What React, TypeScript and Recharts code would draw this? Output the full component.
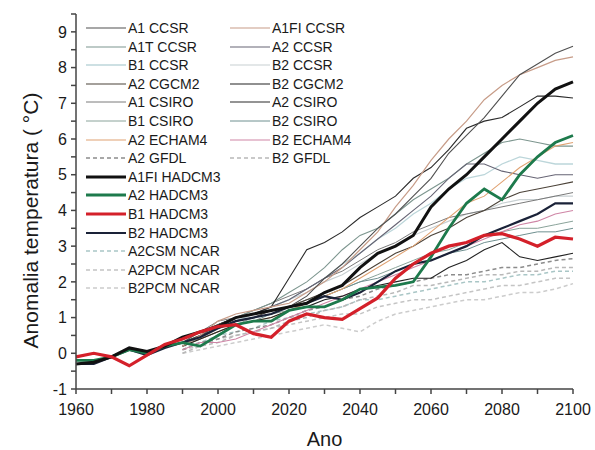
import React from 'react';
import { LineChart, Line, XAxis, YAxis, Legend } from 'recharts';

const FONT = '"Liberation Sans", Arial, Helvetica, sans-serif';

// x values (every 5 years)
const years = [
  1960, 1965, 1970, 1975, 1980, 1985, 1990, 1995, 2000, 2005, 2010, 2015, 2020, 2025, 2030,
  2035, 2040, 2045, 2050, 2055, 2060, 2065, 2070, 2075, 2080, 2085, 2090, 2095, 2100,
];
const xTicks = [1960, 1970, 1980, 1990, 2000, 2010, 2020, 2030, 2040, 2050, 2060, 2070, 2080, 2090, 2100];
const yTicks = [-1, -0.5, 0, 0.5, 1, 1.5, 2, 2.5, 3, 3.5, 4, 4.5, 5, 5.5, 6, 6.5, 7, 7.5, 8, 8.5, 9, 9.5];

// HADCM3 runs, 1960-2100
const a1fiHadcm3 = [-0.3, -0.25, -0.1, 0.15, 0.05, 0.2, 0.45, 0.6, 0.75, 1.0, 1.1, 1.2, 1.3, 1.4, 1.7, 1.9, 2.4, 2.8, 3.0, 3.3, 4.1, 4.6, 5.0, 5.5, 6.0, 6.5, 7.0, 7.4, 7.6];
const a2Hadcm3 = [-0.2, -0.2, -0.1, 0.1, 0.0, 0.2, 0.3, 0.2, 0.5, 0.8, 0.9, 0.9, 1.2, 1.3, 1.3, 1.5, 1.8, 1.85, 1.9, 2.0, 2.7, 3.5, 4.2, 4.6, 4.3, 5.0, 5.5, 5.9, 6.1];
const b1Hadcm3 = [-0.1, 0.0, -0.1, -0.35, -0.05, 0.25, 0.4, 0.6, 0.75, 0.8, 0.55, 0.45, 0.9, 1.1, 1.0, 0.95, 1.25, 1.55, 2.1, 2.5, 2.8, 3.0, 3.1, 3.3, 3.35, 3.2, 3.0, 3.25, 3.2];
const b2Hadcm3 = [-0.3, -0.3, -0.1, 0.1, -0.05, 0.15, 0.3, 0.45, 0.7, 0.9, 1.0, 1.1, 1.3, 1.4, 1.6, 1.5, 1.7, 2.0, 2.3, 2.5, 2.6, 2.8, 3.0, 3.3, 3.5, 3.7, 3.9, 4.2, 4.2];

// other models, 1990-2100
const a1Ccsr = [0.3, 0.6, 0.8, 1.0, 1.1, 1.2, 1.3, 1.6, 2.1, 2.5, 3.0, 3.5, 3.9, 4.4, 4.9, 5.6, 6.1, 6.6, 7.2, 7.8, 8.1, 8.4, 8.6];
const a1fiCcsr = [0.2, 0.5, 0.9, 1.1, 1.2, 1.3, 1.4, 1.7, 2.0, 2.4, 2.9, 3.4, 4.1, 4.7, 5.4, 6.0, 6.5, 7.1, 7.5, 7.8, 8.0, 8.2, 8.3];
const a1tCcsr = [0.3, 0.5, 0.8, 1.0, 1.2, 1.4, 1.7, 2.0, 2.4, 2.9, 3.3, 3.5, 3.9, 4.3, 4.6, 4.9, 5.3, 5.6, 5.9, 6.0, 5.9, 5.8, 5.8];
const a2Ccsr = [0.2, 0.5, 0.8, 1.0, 1.1, 1.3, 1.5, 1.8, 2.1, 2.4, 2.8, 3.2, 3.6, 4.0, 4.4, 4.9, 5.3, 5.3, 5.1, 5.0, 4.9, 5.0, 5.0];
const b1Ccsr = [0.3, 0.5, 0.7, 0.9, 1.1, 1.3, 1.5, 1.8, 2.1, 2.5, 2.8, 3.2, 3.5, 3.9, 4.2, 4.6, 4.9, 5.0, 5.3, 5.5, 5.4, 5.3, 5.3];
const b2Ccsr = [0.2, 0.4, 0.7, 0.9, 1.1, 1.3, 1.5, 1.7, 2.0, 2.2, 2.5, 2.8, 3.0, 3.3, 3.5, 3.7, 3.9, 4.0, 4.2, 4.3, 4.3, 4.4, 4.4];
const a2Cgcm2 = [0.3, 0.5, 0.7, 0.9, 1.0, 1.2, 1.3, 1.5, 1.7, 1.9, 2.2, 2.5, 2.8, 3.0, 3.3, 3.5, 3.8, 4.0, 4.3, 4.5, 4.6, 4.7, 4.8];
const b2Cgcm2 = [0.2, 0.4, 0.6, 0.8, 0.9, 1.0, 1.2, 1.3, 1.5, 1.6, 1.8, 1.9, 2.0, 2.1, 2.1, 2.4, 2.6, 2.9, 3.1, 2.7, 2.6, 2.7, 2.8];
const a1Csiro = [0.4, 0.6, 0.9, 1.0, 1.2, 1.4, 1.6, 1.8, 2.1, 2.3, 2.6, 2.9, 3.1, 3.4, 3.6, 3.8, 3.9, 4.0, 4.1, 4.2, 4.3, 4.4, 4.5];
const a2Csiro = [0.4, 0.6, 0.8, 1.0, 1.1, 1.3, 2.1, 2.9, 3.1, 3.4, 3.8, 4.1, 4.4, 4.9, 5.2, 5.7, 6.3, 6.5, 6.6, 6.9, 7.2, 7.2, 7.15];
const b1Csiro = [0.3, 0.5, 0.7, 0.8, 1.0, 1.1, 1.2, 1.4, 1.6, 1.8, 2.0, 2.2, 2.4, 2.6, 2.8, 2.9, 3.1, 3.3, 3.4, 3.5, 3.5, 3.6, 3.7];
const b2Csiro = [0.3, 0.4, 0.6, 0.8, 0.9, 1.1, 1.3, 1.5, 1.6, 1.8, 2.0, 2.1, 2.3, 2.5, 2.6, 2.8, 2.9, 3.1, 3.2, 3.3, 3.4, 3.4, 3.5];
const a2Echam4 = [0.2, 0.4, 0.6, 0.8, 0.9, 1.0, 1.2, 1.4, 1.6, 1.8, 2.1, 2.4, 2.7, 3.0, 3.4, 3.8, 4.2, 4.4, 4.8, 5.2, 5.5, 5.8, 5.9];
const b2Echam4 = [0.1, 0.3, 0.3, 0.4, 0.6, 0.8, 1.0, 1.2, 1.4, 1.6, 1.8, 2.0, 2.2, 2.4, 2.6, 2.8, 3.0, 3.2, 3.4, 3.6, 3.7, 3.9, 4.0];
const a2Gfdl = [0.1, 0.3, 0.4, 0.6, 0.7, 0.8, 1.0, 1.2, 1.3, 1.5, 1.6, 1.8, 1.9, 2.0, 2.1, 2.2, 2.2, 2.3, 2.4, 2.4, 2.5, 2.6, 2.65];
const b2Gfdl = [0.0, 0.2, 0.3, 0.5, 0.6, 0.7, 0.9, 1.0, 1.2, 1.3, 1.5, 1.6, 1.7, 1.9, 1.9, 2.0, 2.1, 2.2, 2.2, 2.3, 2.3, 2.4, 2.4];
const a2csmNcar = [0.2, 0.3, 0.5, 0.6, 0.7, 0.9, 1.0, 1.1, 1.2, 1.3, 1.5, 1.5, 1.6, 1.7, 1.8, 1.9, 2.0, 2.0, 2.1, 2.2, 2.2, 2.3, 2.3];
const a2pcmNcar = [0.1, 0.2, 0.4, 0.5, 0.6, 0.7, 0.8, 0.9, 1.0, 1.1, 1.1, 1.3, 1.4, 1.5, 1.5, 1.6, 1.7, 1.8, 1.9, 1.9, 2.0, 2.1, 2.1];
const b2pcmNcar = [0.0, 0.1, 0.2, 0.3, 0.4, 0.5, 0.6, 0.7, 0.8, 0.7, 0.6, 0.9, 1.1, 1.2, 1.3, 1.4, 1.5, 1.5, 1.6, 1.7, 1.7, 1.8, 1.95];

interface Series {
  key: string;
  name: string;
  values: number[];
  color: string;
  width: number;
  dash?: string;
}

const series: Record<string, Series> = {
  a1Ccsr: { key: 'a1Ccsr', name: 'A1 CCSR', values: a1Ccsr, color: '#505050', width: 1.1 },
  a1tCcsr: { key: 'a1tCcsr', name: 'A1T CCSR', values: a1tCcsr, color: '#7d968f', width: 1.1 },
  b1Ccsr: { key: 'b1Ccsr', name: 'B1 CCSR', values: b1Ccsr, color: '#bcd6da', width: 1.3 },
  a2Cgcm2: { key: 'a2Cgcm2', name: 'A2 CGCM2', values: a2Cgcm2, color: '#4b4238', width: 1.1 },
  a1Csiro: { key: 'a1Csiro', name: 'A1 CSIRO', values: a1Csiro, color: '#7a7a7a', width: 1.0 },
  b1Csiro: { key: 'b1Csiro', name: 'B1 CSIRO', values: b1Csiro, color: '#8aa39a', width: 1.0 },
  a2Echam4: { key: 'a2Echam4', name: 'A2 ECHAM4', values: a2Echam4, color: '#e0a272', width: 1.1 },
  a2Gfdl: { key: 'a2Gfdl', name: 'A2 GFDL', values: a2Gfdl, color: '#8c8c8c', width: 1.5, dash: '4 3' },
  a1fiHadcm3: { key: 'a1fiHadcm3', name: 'A1FI HADCM3', values: a1fiHadcm3, color: '#111111', width: 3 },
  a2Hadcm3: { key: 'a2Hadcm3', name: 'A2 HADCM3', values: a2Hadcm3, color: '#1d7a4c', width: 2.8 },
  b1Hadcm3: { key: 'b1Hadcm3', name: 'B1 HADCM3', values: b1Hadcm3, color: '#d4202a', width: 3.2 },
  b2Hadcm3: { key: 'b2Hadcm3', name: 'B2 HADCM3', values: b2Hadcm3, color: '#1a2238', width: 2.2 },
  a2csmNcar: { key: 'a2csmNcar', name: 'A2CSM NCAR', values: a2csmNcar, color: '#a9c6c6', width: 1.5, dash: '4 3' },
  a2pcmNcar: { key: 'a2pcmNcar', name: 'A2PCM NCAR', values: a2pcmNcar, color: '#c4c4c4', width: 1.5, dash: '4 3' },
  b2pcmNcar: { key: 'b2pcmNcar', name: 'B2PCM NCAR', values: b2pcmNcar, color: '#cccccc', width: 1.5, dash: '4 3' },
  a1fiCcsr: { key: 'a1fiCcsr', name: 'A1FI CCSR', values: a1fiCcsr, color: '#c79c88', width: 1.2 },
  a2Ccsr: { key: 'a2Ccsr', name: 'A2 CCSR', values: a2Ccsr, color: '#666474', width: 1.1 },
  b2Ccsr: { key: 'b2Ccsr', name: 'B2 CCSR', values: b2Ccsr, color: '#c8d0d2', width: 1.2 },
  b2Cgcm2: { key: 'b2Cgcm2', name: 'B2 CGCM2', values: b2Cgcm2, color: '#222222', width: 1.1 },
  a2Csiro: { key: 'a2Csiro', name: 'A2 CSIRO', values: a2Csiro, color: '#2a2a2a', width: 1.1 },
  b2Csiro: { key: 'b2Csiro', name: 'B2 CSIRO', values: b2Csiro, color: '#6f9090', width: 1.0 },
  b2Echam4: { key: 'b2Echam4', name: 'B2 ECHAM4', values: b2Echam4, color: '#cf86a6', width: 1.1 },
  b2Gfdl: { key: 'b2Gfdl', name: 'B2 GFDL', values: b2Gfdl, color: '#b8b8b8', width: 1.5, dash: '4 3' },
};

const legendCol1 = [
  'a1Ccsr', 'a1tCcsr', 'b1Ccsr', 'a2Cgcm2', 'a1Csiro', 'b1Csiro', 'a2Echam4', 'a2Gfdl',
  'a1fiHadcm3', 'a2Hadcm3', 'b1Hadcm3', 'b2Hadcm3', 'a2csmNcar', 'a2pcmNcar', 'b2pcmNcar',
];
const legendCol2 = ['a1fiCcsr', 'a2Ccsr', 'b2Ccsr', 'b2Cgcm2', 'a2Csiro', 'b2Csiro', 'b2Echam4', 'b2Gfdl'];

// drawing order: thin first, thick HADCM3 on top
const drawOrder = [
  'a2pcmNcar', 'b2pcmNcar', 'a2csmNcar', 'b2Gfdl', 'a2Gfdl',
  'b2Ccsr', 'b1Ccsr', 'b1Csiro', 'b2Csiro', 'a1Csiro', 'a1tCcsr', 'a2Ccsr', 'a2Cgcm2',
  'b2Echam4', 'a2Echam4', 'b2Cgcm2', 'a2Csiro', 'a1fiCcsr', 'a1Ccsr',
  'b2Hadcm3', 'a2Hadcm3', 'a1fiHadcm3', 'b1Hadcm3',
];

const rows = years.map((yr, i) => {
  const row: Record<string, number | null> = { year: yr };
  Object.values(series).forEach((s) => {
    const off = years.length - s.values.length;
    row[s.key] = i >= off ? s.values[i - off] : null;
  });
  return row;
});

const ROW_H = 18.6;

const LegendItem = ({ s, col, row }: { s: Series; col: number; row: number }) => (
  <div
    style={{
      position: 'absolute',
      left: col * 144,
      top: row * ROW_H,
      height: 18,
      display: 'flex',
      alignItems: 'center',
      whiteSpace: 'nowrap',
    }}
  >
    <svg width={40} height={8} style={{ display: 'block' }}>
      <line x1={0} y1={4} x2={40} y2={4} stroke={s.color} strokeWidth={s.width} strokeDasharray={s.dash} />
    </svg>
    <span style={{ marginLeft: 2 }}>{s.name}</span>
  </div>
);

const renderLegend = () => (
  <div style={{ position: 'relative', width: 300, height: 290, fontFamily: FONT, fontSize: 14, color: '#1a1a1a' }}>
    {legendCol1.map((k, i) => <LegendItem key={k} s={series[k]} col={0} row={i} />)}
    {legendCol2.map((k, i) => <LegendItem key={k} s={series[k]} col={1} row={i} />)}
  </div>
);

const renderYLabel = (props: any) => {
  const vb = props.viewBox || { x: 36, y: 14, width: 40, height: 375 };
  const x = vb.x - 6;
  const y = vb.y + vb.height / 2 + 19;
  return (
    <text
      x={x}
      y={y}
      transform={`rotate(-90, ${x}, ${y})`}
      textAnchor="middle"
      dominantBaseline="central"
      fontFamily={FONT}
      fontSize={21}
      fill="#1a1a1a"
    >
      Anomalia temperatura ( °C)
    </text>
  );
};

const AXIS = '#444';

export default function App() {
  return (
    <div style={{ position: 'absolute', left: 0, top: 0, width: 595, height: 450, background: '#fff' }}>
      <LineChart width={595} height={450} data={rows} margin={{ top: 14, right: 22, left: 36, bottom: 31 }}>
        <XAxis
          xAxisId="bottom"
          dataKey="year"
          type="number"
          domain={[1960, 2100]}
          ticks={xTicks}
          tickFormatter={(v: number) => (v % 20 === 0 ? String(v) : '')}
          height={30}
          stroke={AXIS}
          strokeWidth={1.5}
          tickSize={5}
          tickMargin={10}
          tick={{ fontFamily: FONT, fontSize: 16, fill: '#1a1a1a' }}
          label={{ value: 'Ano', position: 'bottom', offset: 13, fontFamily: FONT, fontSize: 20, fill: '#1a1a1a' }}
        />
        <XAxis
          xAxisId="top"
          orientation="top"
          dataKey="year"
          type="number"
          domain={[1960, 2100]}
          height={0}
          tick={false}
          tickLine={false}
          stroke={AXIS}
          strokeWidth={1.5}
        />
        <YAxis
          yAxisId="left"
          type="number"
          domain={[-1, 9.5]}
          ticks={yTicks}
          tickFormatter={(v: number) => (Number.isInteger(v) ? String(v) : '')}
          width={40}
          stroke={AXIS}
          strokeWidth={1.5}
          tickSize={5}
          tickMargin={4}
          tick={{ fontFamily: FONT, fontSize: 16, fill: '#1a1a1a' }}
          label={{ content: renderYLabel }}
        />
        <YAxis
          yAxisId="right"
          orientation="right"
          type="number"
          domain={[-1, 9.5]}
          ticks={yTicks}
          width={0}
          tick={false}
          tickSize={5}
          stroke={AXIS}
          strokeWidth={1.5}
        />
        <Legend
          layout="horizontal"
          verticalAlign="middle"
          align="center"
          content={renderLegend}
          wrapperStyle={{ left: 86, top: 19, width: 300, height: 290 }}
        />
        {drawOrder.map((k) => {
          const s = series[k];
          return (
            <Line
              key={k}
              xAxisId="bottom"
              yAxisId="left"
              type="linear"
              dataKey={k}
              name={s.name}
              stroke={s.color}
              strokeWidth={s.width}
              strokeDasharray={s.dash}
              dot={false}
              activeDot={false}
              connectNulls={false}
              isAnimationActive={false}
              legendType="none"
            />
          );
        })}
      </LineChart>
    </div>
  );
}
